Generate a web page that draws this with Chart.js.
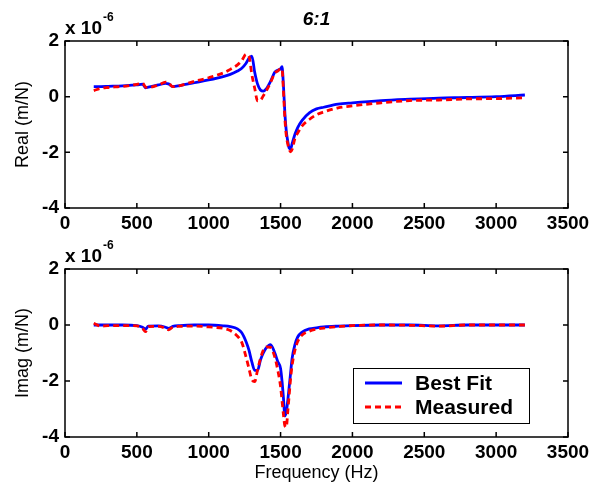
<!DOCTYPE html>
<html>
<head>
<meta charset="utf-8">
<script src="https://cdn.jsdelivr.net/npm/chart.js@4.4.0/dist/chart.umd.min.js"></script>
<style>
  body { margin: 0; background: #fff; }
  #wrap { position: relative; width: 600px; height: 489px; }
  canvas { position: absolute; left: 0; }
</style>
</head>
<body>
<div id="wrap">
  <canvas id="realChart" width="600" height="240" style="top:0"></canvas>
  <canvas id="imagChart" width="600" height="249" style="top:240px"></canvas>
</div>
<script>
// frequency points (Hz)
var freq = [200, 250, 300, 400, 500, 540, 560, 580, 650, 700, 720, 750, 800, 900, 1000, 1100, 1150, 1200,
  1230, 1260, 1280, 1300, 1320, 1340, 1360, 1380, 1400, 1430, 1460, 1480, 1500, 1510, 1520, 1530, 1540,
  1550, 1560, 1570, 1580, 1600, 1620, 1650, 1700, 1750, 1800, 1900, 2000, 2200, 2400, 2600, 2800, 3000, 3200];

// values in units of 1e-6 m/N
var realFit = [0.36, 0.36, 0.37, 0.39, 0.42, 0.45, 0.32, 0.34, 0.42, 0.48, 0.46, 0.36, 0.40, 0.50, 0.60, 0.72, 0.80, 0.92,
  1.02, 1.20, 1.38, 1.46, 0.88, 0.45, 0.24, 0.20, 0.28, 0.55, 0.88, 0.95, 1.00, 1.08, 0.40, -0.60, -1.25,
  -1.60, -1.85, -1.88, -1.70, -1.35, -1.10, -0.85, -0.58, -0.44, -0.38, -0.27, -0.22, -0.14, -0.09, -0.05, -0.03, 0.00, 0.06];
var realMeas = [0.22, 0.30, 0.33, 0.37, 0.44, 0.48, 0.35, 0.33, 0.42, 0.52, 0.50, 0.36, 0.40, 0.55, 0.68, 0.85, 0.98, 1.14,
  1.30, 1.52, 1.45, 0.80, 0.30, -0.15, -0.13, 0.03, 0.20, 0.50, 0.85, 0.92, 1.00, 1.00, 0.20, -0.80, -1.40,
  -1.70, -1.90, -1.98, -1.90, -1.50, -1.30, -1.05, -0.82, -0.65, -0.55, -0.40, -0.33, -0.22, -0.14, -0.12, -0.08, -0.07, -0.04];
var imagFit = [0.00, 0.00, 0.00, 0.00, -0.02, -0.08, -0.15, -0.04, -0.03, -0.08, -0.12, -0.05, -0.02, 0.00, 0.00, -0.03, -0.06, -0.14,
  -0.28, -0.60, -0.90, -1.32, -1.62, -1.62, -1.25, -1.00, -0.82, -0.70, -1.00, -1.30, -1.55, -2.00, -2.60, -3.25, -3.10,
  -2.70, -2.20, -1.70, -1.20, -0.70, -0.42, -0.25, -0.14, -0.10, -0.07, -0.04, -0.02, 0.00, 0.00, -0.03, 0.00, 0.00, 0.00];
var imagMeas = [0.06, -0.04, -0.02, -0.02, -0.03, -0.12, -0.24, -0.06, -0.05, -0.12, -0.17, -0.08, -0.05, -0.04, -0.07, -0.12, -0.20, -0.40,
  -0.62, -1.15, -1.55, -1.95, -2.02, -1.60, -1.20, -0.90, -0.78, -0.80, -1.15, -1.60, -2.20, -2.70, -3.20, -3.60, -3.65,
  -3.10, -2.50, -1.90, -1.45, -0.90, -0.58, -0.36, -0.22, -0.15, -0.11, -0.06, -0.02, 0.00, -0.01, -0.04, 0.00, 0.00, 0.00];

var xTicks = [0, 500, 1000, 1500, 2000, 2500, 3000, 3500];
var yTicks = [-4, -2, 0, 2];
var seriesNames = ['Best Fit', 'Measured'];

var FONT = '"Liberation Sans", Arial, sans-serif';

function toPoints(ys) {
  return freq.map(function (f, i) { return { x: f, y: ys[i] }; });
}

//Frame, inner ticks, exponent, title and legend
var framePlugin = {
  id: 'frame',
  afterDraw: function (chart, args, opts) {
    var ctx = chart.ctx;
    var a = chart.chartArea;
    var xs = chart.scales.x, ys = chart.scales.y;
    ctx.save();
    ctx.strokeStyle = '#000';
    ctx.lineWidth = 1.5;
    ctx.strokeRect(a.left, a.top, a.right - a.left, a.bottom - a.top);
    ctx.beginPath();
    xs.ticks.forEach(function (t) {
      var px = xs.getPixelForValue(t.value);
      ctx.moveTo(px, a.bottom); ctx.lineTo(px, a.bottom - 5);
      ctx.moveTo(px, a.top); ctx.lineTo(px, a.top + 5);
    });
    ys.ticks.forEach(function (t) {
      var py = ys.getPixelForValue(t.value);
      ctx.moveTo(a.left, py); ctx.lineTo(a.left + 5, py);
      ctx.moveTo(a.right, py); ctx.lineTo(a.right - 5, py);
    });
    ctx.stroke();

    //x 10^-6
    ctx.fillStyle = '#000';
    ctx.textBaseline = 'alphabetic';
    ctx.textAlign = 'left';
    ctx.font = 'bold 19px ' + FONT;
    ctx.fillText('x 10', a.left, a.top - 7);
    var w = ctx.measureText('x 10').width;
    ctx.font = 'bold 12px ' + FONT;
    ctx.fillText('-6', a.left + w + 1, a.top - 20);

    if (opts.title) {
      ctx.font = 'italic bold 19px ' + FONT;
      ctx.textAlign = 'center';
      ctx.fillText(opts.title, (a.left + a.right) / 2, a.top - 16);
    }

    if (opts.legend) {
      var bx = a.right - 39 - 176, by = a.bottom - 14 - 55;
      ctx.fillStyle = '#fff';
      ctx.fillRect(bx, by, 176, 55);
      ctx.strokeStyle = '#000';
      ctx.lineWidth = 1;
      ctx.strokeRect(bx + 0.5, by + 0.5, 176, 55);
      chart.data.datasets.forEach(function (ds, i) {
        var ly = by + 15 + i * 24;
        ctx.beginPath();
        ctx.strokeStyle = ds.borderColor;
        ctx.lineWidth = ds.borderWidth;
        ctx.setLineDash(ds.borderDash || []);
        ctx.moveTo(bx + 12, ly);
        ctx.lineTo(bx + 49, ly);
        ctx.stroke();
        ctx.setLineDash([]);
        ctx.fillStyle = '#000';
        ctx.font = 'bold 21px ' + FONT;
        ctx.textAlign = 'left';
        ctx.textBaseline = 'middle';
        ctx.fillText(ds.label, bx + 62, ly + 1);
      });
    }
    ctx.restore();
  }
};

function makeChart(id, fit, meas, yTitle, opts) {
  var ctx = document.getElementById(id).getContext('2d');
  return new Chart(ctx, {
    type: 'line',
    data: {
      datasets: [{
        label: seriesNames[0],
        data: toPoints(fit),
        borderColor: '#0000ff',
        borderWidth: 2.8,
        pointRadius: 0,
        cubicInterpolationMode: 'monotone',
        order: 1
      }, {
        label: seriesNames[1],
        data: toPoints(meas),
        borderColor: '#ff0000',
        borderWidth: 2.8,
        borderDash: [6, 4],
        pointRadius: 0,
        cubicInterpolationMode: 'monotone',
        order: 0
      }]
    },
    options: {
      responsive: false,
      animation: false,
      layout: { padding: { left: 0, right: 32, top: opts.top, bottom: 0 } },
      plugins: {
        legend: { display: false },
        tooltip: { enabled: false },
        frame: { title: opts.title, legend: opts.legend }
      },
      scales: {
        x: {
          type: 'linear',
          min: 0, max: 3500,
          afterBuildTicks: function (s) { s.ticks = xTicks.map(function (v) { return { value: v }; }); },
          ticks: {
            color: '#000', font: { family: FONT, size: 19, weight: 'bold' }, padding: 4, maxRotation: 0, autoSkip: false,
            callback: function (v) { return String(v); }
          },
          grid: { display: false, drawTicks: false },
          border: { display: false },
          title: { display: !!opts.xTitle, text: opts.xTitle || '', color: '#000', font: { family: FONT, size: 18 }, padding: { top: 0, bottom: 5 } },
          afterFit: function (s) { s.height = opts.xHeight; }
        },
        y: {
          min: -4, max: 2,
          afterBuildTicks: function (s) { s.ticks = yTicks.map(function (v) { return { value: v }; }); },
          ticks: {
            color: '#000', font: { family: FONT, size: 19, weight: 'bold' }, padding: 6,
            callback: function (v) { return String(v); }
          },
          grid: { display: false, drawTicks: false },
          border: { display: false },
          title: { display: true, text: yTitle, color: '#000', font: { family: FONT, size: 18 }, padding: { top: 12, bottom: 0 } },
          afterFit: function (s) { s.width = 65; }
        }
      }
    },
    plugins: [framePlugin]
  });
}

makeChart('realChart', realFit, realMeas, 'Real (m/N)', { top: 41, xHeight: 32, title: '6:1', legend: false });
makeChart('imagChart', imagFit, imagMeas, 'Imag (m/N)', { top: 29, xHeight: 52, title: '', legend: true, xTitle: 'Frequency (Hz)' });
</script>
</body>
</html>
